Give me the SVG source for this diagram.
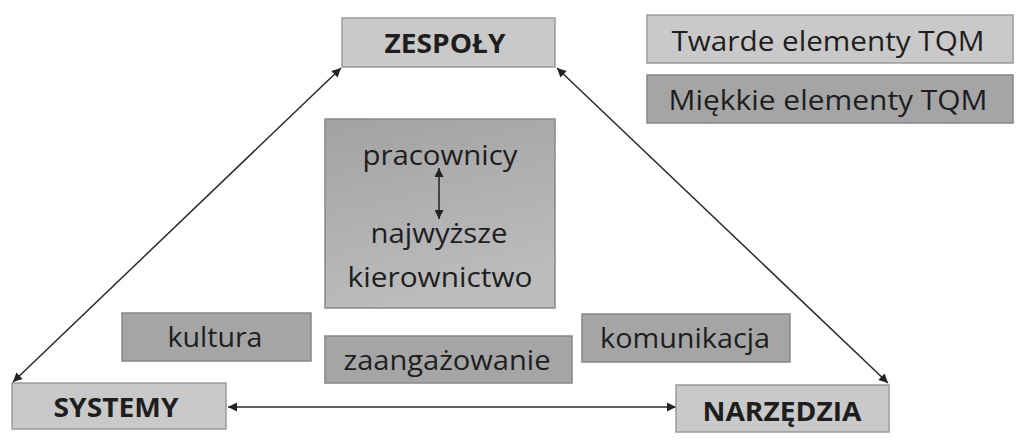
<svg xmlns="http://www.w3.org/2000/svg" width="1024" height="447" viewBox="0 0 1024 447">
<style>
.light{fill:#c9c9c9;stroke:#9a9a9a;stroke-width:1.5}
.dark{fill:#a5a5a5;stroke:#878787;stroke-width:1.5}
.t{font-family:"Open Sans","Liberation Sans",sans-serif;font-size:28px;fill:#1e1e1e;text-anchor:middle}
.b{font-family:"Open Sans","Liberation Sans",sans-serif;font-size:27px;font-weight:bold;fill:#1e1e1e;text-anchor:middle}
.c{stroke:#2a2a2a;stroke-width:1.5;fill:none;marker-start:url(#ah);marker-end:url(#ah)}
</style>
<defs>
<marker id="ah" viewBox="0 0 10 10" refX="10" refY="5" markerWidth="12" markerHeight="9" markerUnits="userSpaceOnUse" orient="auto-start-reverse">
<path d="M0,0 L10,5 L0,10 Z" fill="#222"/>
</marker>
<linearGradient id="g" x1="0" y1="0" x2="0.3" y2="1">
<stop offset="0" stop-color="#a2a2a2"/>
<stop offset="1" stop-color="#bcbcbc"/>
</linearGradient>
</defs>
<rect width="1024" height="447" fill="#fff"/>
<g id="connectors">
<line class="c" x1="341" y1="68" x2="13" y2="382"/>
<line class="c" x1="557" y1="68" x2="888" y2="383"/>
<line class="c" x1="228" y1="407" x2="676" y2="407"/>
</g>
<g id="zespoly"><rect class="light" x="342" y="18" width="213" height="49"/><text class="b" x="445" y="53" textLength="121" lengthAdjust="spacingAndGlyphs">ZESPOŁY</text></g>
<g id="twarde"><rect class="light" x="647" y="15" width="366" height="48"/><text class="t" x="828" y="51" textLength="313" lengthAdjust="spacingAndGlyphs">Twarde elementy TQM</text></g>
<g id="miekkie"><rect class="dark" x="647" y="75" width="366" height="48"/><text class="t" x="828" y="110" textLength="319" lengthAdjust="spacingAndGlyphs">Miękkie elementy TQM</text></g>
<g id="centrum">
<rect x="325" y="119" width="230" height="189" fill="url(#g)" stroke="#888" stroke-width="1.5"/>
<text class="t" x="440" y="165" textLength="155" lengthAdjust="spacingAndGlyphs">pracownicy</text>
<line class="c" x1="439" y1="168" x2="439" y2="219" style="stroke-width:1.6"/>
<text class="t" x="439" y="243" textLength="137" lengthAdjust="spacingAndGlyphs">najwyższe</text>
<text class="t" x="440" y="287" textLength="185" lengthAdjust="spacingAndGlyphs">kierownictwo</text>
</g>
<g id="kultura"><rect class="dark" x="122" y="313" width="189" height="48"/><text class="t" x="215" y="347" textLength="95" lengthAdjust="spacingAndGlyphs">kultura</text></g>
<g id="zaangazowanie"><rect class="dark" x="325" y="336" width="247" height="47"/><text class="t" x="447" y="370" textLength="207" lengthAdjust="spacingAndGlyphs">zaangażowanie</text></g>
<g id="komunikacja"><rect class="dark" x="582" y="314" width="208" height="48"/><text class="t" x="685" y="348" textLength="170" lengthAdjust="spacingAndGlyphs">komunikacja</text></g>
<g id="systemy"><rect class="light" x="12" y="383" width="214" height="46"/><text class="b" x="116" y="417" textLength="125" lengthAdjust="spacingAndGlyphs">SYSTEMY</text></g>
<g id="narzedzia"><rect class="light" x="676" y="385" width="213" height="47"/><text class="b" x="782" y="421" textLength="159" lengthAdjust="spacingAndGlyphs">NARZĘDZIA</text></g>
</svg>
